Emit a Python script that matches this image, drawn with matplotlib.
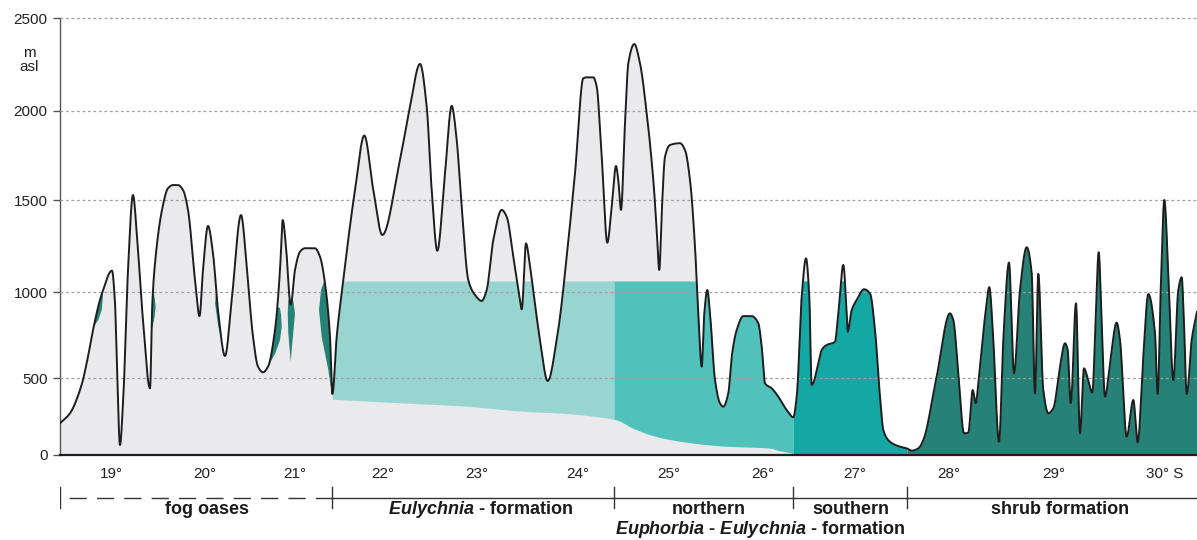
import numpy as np
import matplotlib.pyplot as plt
from matplotlib.patches import Polygon

plt.rcParams['font.family'] = 'Liberation Sans'
plt.rcParams['mathtext.fontset'] = 'custom'
plt.rcParams['mathtext.it'] = 'Liberation Sans:italic:bold'
plt.rcParams['mathtext.rm'] = 'Liberation Sans:bold'

# transect profile: distance along the coast (profile units) and elevation (m asl)
dist = [0, 10, 20, 28, 33, 42, 52, 55, 57, 60, 63, 68, 73, 77, 83, 90, 92.3, 95,
        102, 108, 113, 118, 123, 128, 135, 139.5, 143, 148, 153, 158, 165, 172,
        181, 187, 193, 198, 203, 208, 215, 220, 222.7, 226, 230.7, 235, 240, 245,
        255, 260, 265, 270, 272.3, 276.7, 283.3, 295, 304.3, 313.3, 322.3, 340,
        350, 360, 366.7, 371.7, 377.3, 385, 391.7, 396.7, 401.7, 408.3, 415,
        421.7, 426.7, 433.3, 441.7, 446.7, 453.3, 460, 461.7, 466, 470, 480,
        487.7, 496.7, 506.7, 515, 523.3, 526.7, 533.3, 536.7, 541.7, 547.3,
        551.7, 556, 558.3, 561, 565, 568.3, 574.3, 580, 586.7, 593.3, 596.7,
        599.3, 601.7, 605, 610, 620, 625, 630, 635, 638.3, 641.7, 644.3, 647.3,
        650, 655, 660, 663.3, 668.3, 671.7, 676.7, 683.3, 691.7, 698.3, 701.7,
        705, 711.7, 718.3, 726.7, 733.3, 736.7, 741.7, 746, 749.3, 751.7, 758.3,
        761.7, 766.7, 775, 778.3, 783.3, 786.7, 787.7, 791.7, 796.7, 804, 810,
        815, 820, 823.3, 830, 840, 846.7, 851.7, 858.3, 863.3, 876.7, 890,
        893.3, 898.3, 904, 908.3, 912.7, 915.7, 919, 925, 929.3, 933.3, 939,
        943.3, 949, 954, 960, 966.7, 971.7, 975, 978.3, 983.3, 988.3, 993.3,
        1000, 1005, 1007.7, 1010.7, 1016, 1020, 1024, 1027.3, 1032.3, 1035,
        1038.7, 1041.7, 1045, 1050, 1056.7, 1060, 1066.7, 1073.3, 1077.7,
        1083.3, 1088.3, 1095, 1097.7, 1100.7, 1104.3, 1108.3, 1113.3, 1118.3,
        1121.7, 1124, 1126.7, 1131.7, 1137]
elev = [206, 271, 422, 624, 779, 992, 1116, 936, 547, 65, 336, 1120, 1528, 1301,
        837, 433, 934, 1156, 1446, 1566, 1584, 1584, 1556, 1446, 1065, 860,
        1120, 1359, 1210, 895, 628, 972, 1418, 1120, 740, 566, 533, 566, 779,
        1120, 1391, 1246, 925, 1120, 1219, 1238, 1238, 1192, 1047, 740, 396,
        740, 1065, 1556, 1862, 1556, 1310, 1725, 2023, 2253, 2023, 1556, 1224,
        1650, 2028, 1837, 1464, 1065, 983, 948, 1011, 1283, 1446, 1409, 1192,
        954, 899, 1264, 1138, 721, 481, 721, 1192, 1650, 2176, 2181, 2181,
        2131, 1743, 1268, 1464, 1691, 1612, 1446, 1931, 2256, 2360, 2256, 1987,
        1612, 1337, 1120, 1428, 1743, 1809, 1819, 1781, 1612, 1246, 876, 566,
        876, 1011, 876, 487, 336, 314, 401, 624, 779, 860, 860, 818, 682, 466,
        433, 379, 292, 245, 379, 972, 1183, 972, 455, 585, 663, 692, 711, 876,
        1147, 876, 769, 895, 954, 1015, 992, 779, 379, 162, 86, 54, 43, 28, 43,
        97, 508, 876, 837, 527, 141, 145, 422, 336, 508, 856, 1026, 721, 86,
        721, 1160, 527, 1011, 1243, 1102, 401, 1098, 422, 271, 303, 566, 702,
        663, 336, 934, 141, 556, 508, 405, 721, 1216, 818, 379, 585, 822, 721,
        119, 357, 82, 624, 988, 760, 396, 1011, 1500, 1102, 487, 1011, 1080,
        818, 396, 721, 885]

# lower edge of the cactus belts (m asl)
base_dist = [272.3, 336.7, 403.3, 470, 503, 536.7, 556.7, 573.3, 596.7, 630,
             663.3, 711.7, 716.7, 730, 738, 1137]
base_elev = [362, 340, 318, 281, 271, 249, 227, 173, 119, 80, 58, 43, 32, 15, 0, 0]
belt_top = 1060

# belt limits along the transect
belt_edges = [0, 272.3, 554, 733.3, 847, 1137]

# fog-oasis patches on the coastal slopes (distance, m asl)
fog_patches = [
    ([30, 40.5, 42.7, 42.9, 41.7, 38.3, 33.3], [820, 1010, 1003, 973, 895, 837, 795]),
    ([90.5, 92.0, 93.3, 94.8, 95.7, 94.5, 92.5], [790, 1010, 1010, 960, 914, 850, 795]),
    ([156, 160, 166, 162.7, 158.3, 155], [1000, 1005, 690, 687, 798, 934]),
    ([208, 214, 220, 221, 221.7, 220, 215, 210.7], [560, 930, 905, 870, 798, 720, 640, 595]),
    ([230.7, 233.5, 235, 233.2, 230.7, 228.3, 227.7, 228.2], [1010, 940, 876, 760, 595, 760, 876, 940]),
    ([261, 264.5, 266, 270, 272.3, 271.7, 268.3, 261.7, 259], [1010, 1065, 1060, 800, 396, 402, 547, 740, 895]),
]

lat_labels = ['19°', '20°', '21°', '22°', '23°', '24°', '25°', '26°', '27°', '28°', '29°', '30° S']
lat_pos = [51, 144.7, 234.7, 322.7, 416.5, 518, 608.6, 703, 794.8, 889, 994, 1104.6]

elev_ticks = [0, 500, 1000, 1500, 2000, 2500]
# the elevation ruler is not uniform: the 500 m steps get taller with height
ruler = [0, 77, 163, 255, 344, 437]

GREY = '#eaeaec'
EULYCHNIA = '#98d5d1'
NORTH = '#50c1bb'
SOUTH = '#14a8a4'
SHRUB = '#268276'
INK = '#1e1e1e'


def fwd(v):
    return np.interp(v, elev_ticks, ruler)


def inv(u):
    return np.interp(u, ruler, elev_ticks)


def smooth_curve(x, y, xq):
    """Monotone cubic (Fritsch-Carlson) curve through the points, no overshoot."""
    x = np.asarray(x, float)
    y = np.asarray(y, float)
    h = np.diff(x)
    delta = np.diff(y) / h
    d = np.zeros_like(y)
    d[0], d[-1] = delta[0], delta[-1]
    for k in range(1, len(x) - 1):
        if delta[k - 1] * delta[k] > 0:
            w1 = 2 * h[k] + h[k - 1]
            w2 = h[k] + 2 * h[k - 1]
            d[k] = (w1 + w2) / (w1 / delta[k - 1] + w2 / delta[k])
    i = np.clip(np.searchsorted(x, xq) - 1, 0, len(x) - 2)
    t = (xq - x[i]) / h[i]
    h00 = 2 * t**3 - 3 * t**2 + 1
    h10 = t**3 - 2 * t**2 + t
    h01 = -2 * t**3 + 3 * t**2
    h11 = t**3 - t**2
    return h00 * y[i] + h10 * h[i] * d[i] + h01 * y[i + 1] + h11 * h[i] * d[i + 1]


fig = plt.figure(figsize=(11.97, 5.4), dpi=100)
ax = fig.add_axes([60 / 1197, 85 / 540, 1137 / 1197, 437 / 540])
ax.set_yscale('function', functions=(fwd, inv))
ax.set_xlim(0, 1137)
ax.set_ylim(0, 2500)

xs = np.union1d(np.linspace(0, 1137, 12000), np.r_[dist, belt_edges])
prof = smooth_curve(dist, elev, xs)
base = smooth_curve(base_dist, base_elev, np.clip(xs, base_dist[0], base_dist[-1]))
capped = np.minimum(prof, belt_top)

# bare ground
m = xs <= belt_edges[4]
ax.fill_between(xs[m], 0, prof[m], color=GREY, lw=0, zorder=1)
ground = Polygon(np.column_stack([np.r_[xs[m], xs[m][::-1]],
                                  np.r_[prof[m], np.zeros(m.sum())]]),
                 transform=ax.transData)

# fog oases, kept inside the ground outline
for px, py in fog_patches:
    patch, = ax.fill(px, py, color=SHRUB, lw=0, zorder=1.5)
    patch.set_clip_path(ground)

# cactus belts
for lo, hi, col in [(belt_edges[1], belt_edges[2], EULYCHNIA),
                    (belt_edges[2], belt_edges[3], NORTH),
                    (belt_edges[3], belt_edges[4], SOUTH)]:
    m = (xs >= lo) & (xs <= hi)
    ax.fill_between(xs[m], base[m], capped[m], color=col, lw=0, zorder=2)

# shrub formation
m = xs >= belt_edges[4]
ax.fill_between(xs[m], 0, prof[m], color=SHRUB, lw=0, zorder=2)

for lvl in elev_ticks[1:]:
    ax.axhline(lvl, color='#a0a0a0', lw=0.9, ls=(0, (2.2, 2.2)), zorder=3, clip_on=False)

ax.plot(xs, prof, color=INK, lw=1.4, zorder=4, solid_joinstyle='round')

for s in ['top', 'right']:
    ax.spines[s].set_visible(False)
ax.spines['left'].set_color('#555555')
ax.spines['left'].set_linewidth(1.0)
ax.spines['bottom'].set_color(INK)
ax.spines['bottom'].set_linewidth(1.6)
ax.spines['bottom'].set_zorder(5)

ax.set_yticks(elev_ticks)
ax.set_yticklabels([str(t) for t in elev_ticks])
ax.yaxis.set_minor_locator(plt.NullLocator())
ax.tick_params(axis='y', length=5, width=1, color='#555555', pad=4,
               labelsize=11, labelcolor='#222222')
ax.set_xticks(lat_pos)
ax.set_xticklabels(lat_labels)
ax.tick_params(axis='x', length=0, pad=8.5, labelsize=11, labelcolor='#222222')

fig.text(29 / 1197, 1 - 60 / 540, 'm\nasl', ha='center', va='center',
         fontsize=11, linespacing=1.0, color='#222222')

# belt bar below the profile
sec = fig.add_axes([60 / 1197, 0, 1137 / 1197, 85 / 540])
sec.set_xlim(0, 1137)
sec.set_ylim(0, 85)
sec.axis('off')
sec.plot([belt_edges[0], belt_edges[1]], [42, 42], color='#333333', lw=1.0,
         ls=(13.2, (12.4, 7.3)))
sec.plot([belt_edges[1], belt_edges[-1]], [42, 42], color='#333333', lw=1.0)
for e in belt_edges[:-1]:
    sec.plot([e, e], [32, 53], color='#333333', lw=1.0)

lab = dict(ha='center', va='center', fontsize=13, fontweight='bold', color='#1a1a1a')
sec.text(147, 31, 'fog oases', **lab)
sec.text(420, 31, r'$\mathit{Eulychnia}$ - formation', **lab)
sec.text(648.5, 31, 'northern', **lab)
sec.text(790.5, 31, 'southern', **lab)
sec.text(699.7, 10, r'$\mathit{Euphorbia}$ - $\mathit{Eulychnia}$ - formation', **lab)
sec.text(1000, 31, 'shrub formation', **lab)

fig.savefig('out.png', dpi=100)
